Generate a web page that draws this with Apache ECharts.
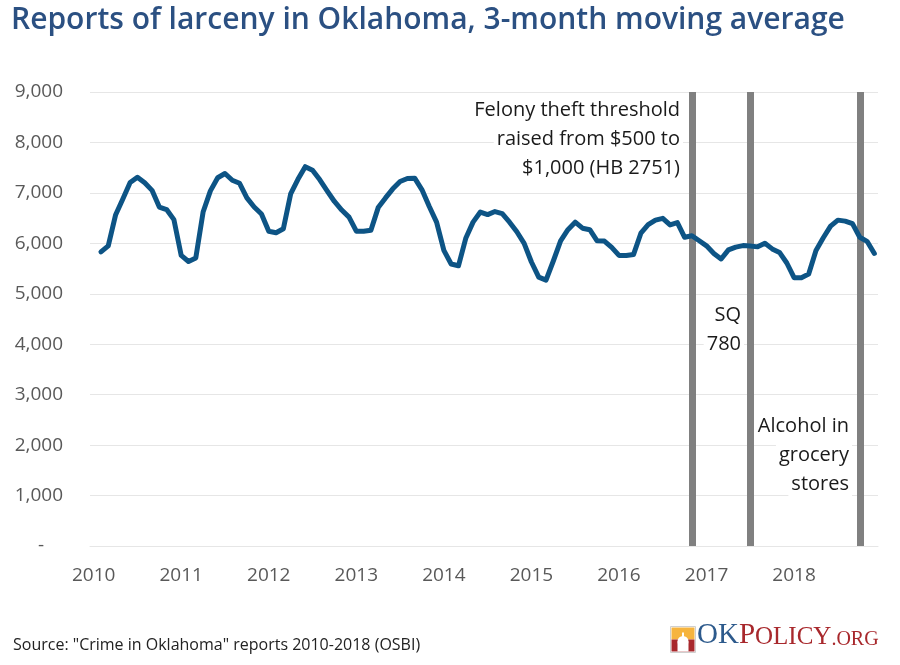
<!DOCTYPE html>
<html>
<head>
<meta charset="utf-8">
<script src="https://cdn.jsdelivr.net/npm/echarts@6/dist/echarts.min.js"></script>
<style>
html,body{margin:0;padding:0;background:#fff;}
#chart{width:900px;height:665px;}
</style>
</head>
<body>
<div id="chart"></div>
<script>
// Months Jan 2010 .. Dec 2018
const years = [2010, 2011, 2012, 2013, 2014, 2015, 2016, 2017, 2018];
const months = [];
years.forEach(function (y) {
  for (let m = 1; m <= 12; m++) months.push(y + '-' + (m < 10 ? '0' + m : m));
});

// 3-month moving average of larceny reports (first month has no value)
const larceny = [
  null, 5830, 5950, 6560, 6880, 7205, 7310, 7200, 7050, 6720, 6670, 6470,
  5760, 5640, 5710, 6620, 7040, 7300, 7384, 7250, 7190, 6900, 6720, 6580,
  6240, 6210, 6290, 6980, 7270, 7520, 7450, 7260, 7040, 6830, 6660, 6520,
  6240, 6240, 6258, 6708, 6900, 7080, 7225, 7285, 7292, 7060, 6730, 6420,
  5860, 5590, 5555, 6100, 6420, 6620, 6570, 6630, 6590, 6420, 6230, 6000,
  5630, 5330, 5270, 5650, 6050, 6270, 6420, 6300, 6270, 6050, 6046, 5920,
  5760, 5760, 5780, 6200, 6370, 6460, 6496, 6364, 6410, 6120, 6150, 6050,
  5950, 5800, 5690, 5870, 5925, 5955, 5945, 5930, 6000, 5890, 5820, 5610,
  5320, 5320, 5390, 5860, 6110, 6340, 6460, 6440, 6390, 6120, 6040, 5800
];

// Policy events (month of vertical bar)
const eventMonths = ['2016-11', '2017-07', '2018-10'];

// Y axis ticks
const yMax = 9000;
const yStep = 1000;

const titleText = 'Reports of larceny in Oklahoma, 3-month moving average';
const sourceText = 'Source: "Crime in Oklahoma" reports 2010-2018 (OSBI)';
const noteFelony = ['Felony theft threshold', 'raised from $500 to', '$1,000 (HB 2751)'];
const noteSQ = ['SQ', '780'];
const noteAlcohol = ['Alcohol in', 'grocery', 'stores'];

const FONT = '"Open Sans", "Noto Sans", sans-serif';
const SERIF = '"Liberation Serif", "DejaVu Serif", serif';

const chart = echarts.init(document.getElementById('chart'), null, {renderer: 'canvas'});

// one right-aligned text element per line, with white backing
function note(lines, xRight, yFirst) {
  return lines.map(function (t, k) {
    return {
      type: 'text', x: xRight, y: yFirst + k * 29, z: 50,
      style: {
        text: t, font: '20px ' + FONT, fill: '#1a1a1a',
        align: 'right', verticalAlign: 'middle',
        backgroundColor: '#fff', padding: [2, 3, 2, 3]
      }
    };
  });
}

chart.setOption({
  animation: false,
  backgroundColor: '#ffffff',
  title: {
    text: titleText, left: 6, top: 0,
    textStyle: {fontFamily: FONT, fontSize: 30, fontWeight: 600, color: '#2b5082'}
  },
  grid: {left: 90, right: 22, top: 92, bottom: 119},
  xAxis: {
    type: 'category', data: months, boundaryGap: true,
    axisLine: {show: true, lineStyle: {color: '#e6e6e6', width: 1}},
    axisTick: {show: false},
    splitLine: {show: false},
    axisLabel: {
      interval: function (idx) { return idx % 12 === 0; },
      formatter: function (v) { return v.slice(0, 4); },
      fontFamily: FONT, fontSize: 19, color: '#595959', margin: 20
    }
  },
  yAxis: {
    type: 'value', min: 0, max: yMax, interval: yStep,
    axisLine: {show: false}, axisTick: {show: false},
    splitLine: {lineStyle: {color: '#e6e6e6', width: 1}},
    axisLabel: {
      formatter: function (v) { return v === 0 ? '-\u2002\u2002' : v.toLocaleString('en-US'); },
      fontFamily: FONT, fontSize: 19, color: '#595959', margin: 27
    }
  },
  series: [
    {
      type: 'line', data: [], z: 1, silent: true,
      markLine: {
        silent: true, symbol: 'none', z: 1,
        label: {show: false},
        lineStyle: {color: '#808080', width: 7, type: 'solid'},
        emphasis: {disabled: true},
        data: eventMonths.map(function (m) { return {xAxis: m}; })
      }
    },
    {
      type: 'line', data: larceny, z: 5, showSymbol: false, symbol: 'none',
      lineStyle: {color: '#0d5485', width: 5, join: 'round', cap: 'round'},
      connectNulls: false, silent: true
    }
  ],
  graphic: [].concat(
    note(noteFelony, 683, 110),
    note(noteSQ, 744, 315),
    note(noteAlcohol, 852, 426),
    [
      {
        type: 'text', left: 13, top: 637,
        style: {text: sourceText, font: '16px ' + FONT, fill: '#222'}
      },
      {
        type: 'group', left: 670, top: 626,
        children: [
          {type: 'rect', shape: {x: 0, y: 0, width: 25, height: 26}, style: {fill: '#fff', stroke: '#cfcfcf', lineWidth: 1}},
          {type: 'rect', shape: {x: 1, y: 1, width: 23, height: 12}, style: {fill: '#f6b43e'}},
          {type: 'rect', shape: {x: 1, y: 13, width: 23, height: 12}, style: {fill: '#a8282c'}},
          {type: 'circle', shape: {cx: 12.5, cy: 15, r: 5.5}, style: {fill: '#fff'}},
          {type: 'rect', shape: {x: 7, y: 15, width: 11, height: 10}, style: {fill: '#fff'}},
          {type: 'rect', shape: {x: 11.5, y: 6, width: 2, height: 5}, style: {fill: '#fff'}}
        ]
      },
      {
        type: 'text', x: 697, y: 650,
        style: {
          text: '{a|OK}{b|P}{c|OLICY}{d|.ORG}', verticalAlign: 'bottom',
          rich: {
            a: {fontFamily: SERIF, fontSize: 29, fill: '#2d5a8c', color: '#2d5a8c', verticalAlign: 'bottom'},
            b: {fontFamily: SERIF, fontSize: 29, fill: '#a8282c', color: '#a8282c', verticalAlign: 'bottom'},
            c: {fontFamily: SERIF, fontSize: 25, fill: '#a8282c', color: '#a8282c', verticalAlign: 'bottom'},
            d: {fontFamily: SERIF, fontSize: 20, fill: '#a8282c', color: '#a8282c', verticalAlign: 'bottom'}
          }
        }
      }
    ]
  )
});
</script>
</body>
</html>
